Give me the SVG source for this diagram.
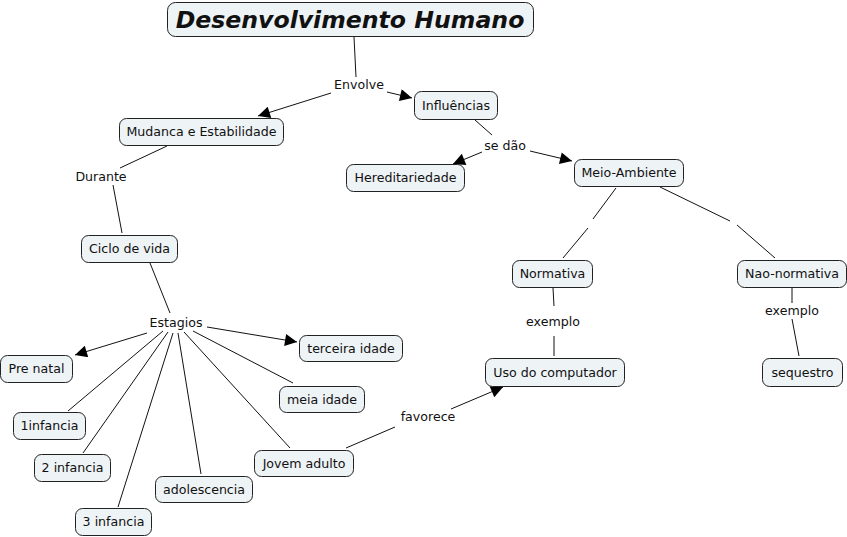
<svg xmlns="http://www.w3.org/2000/svg" width="847" height="537" viewBox="0 0 847 537">
<defs>
<style>
.n rect{fill:#eef3f6;stroke:#222;stroke-width:1}
.n text{font-family:"DejaVu Sans",Verdana,sans-serif;font-size:12.6px;fill:#111;text-anchor:middle}
.t text{font-size:23.6px;font-weight:bold;font-style:italic}
.c line{stroke:#111;stroke-width:1}
.l text{font-family:"DejaVu Sans",Verdana,sans-serif;font-size:12.6px;fill:#111;text-anchor:middle}
</style>
<marker id="a" viewBox="0 0 10 10" refX="10" refY="5" markerWidth="16" markerHeight="12" markerUnits="userSpaceOnUse" orient="auto"><path d="M0,0 L10,5 L0,10 z" fill="#000"/></marker>
</defs>
<rect width="847" height="537" fill="#fff"/>
<g id="connectors" class="c">
<line x1="354" y1="37" x2="356" y2="77"/>
<line x1="331" y1="93" x2="258" y2="116" marker-end="url(#a)"/>
<line x1="387" y1="92" x2="412" y2="98" marker-end="url(#a)"/>
<line x1="475" y1="120" x2="492" y2="135"/>
<line x1="482" y1="152" x2="453" y2="164" marker-end="url(#a)"/>
<line x1="530" y1="151" x2="572" y2="161" marker-end="url(#a)"/>
<line x1="167" y1="146" x2="120" y2="168"/>
<line x1="113" y1="185" x2="122" y2="233"/>
<line x1="150" y1="263" x2="170" y2="313"/>
<line x1="147" y1="333" x2="75" y2="355" marker-end="url(#a)"/>
<line x1="207" y1="327" x2="297" y2="342" marker-end="url(#a)"/>
<line x1="163" y1="331" x2="68" y2="411"/>
<line x1="168" y1="332" x2="83" y2="453"/>
<line x1="173" y1="333" x2="118" y2="507"/>
<line x1="178" y1="333" x2="201" y2="474"/>
<line x1="184" y1="332" x2="290" y2="448"/>
<line x1="193" y1="331" x2="293" y2="383"/>
<line x1="346" y1="448" x2="395" y2="427"/>
<line x1="451" y1="409" x2="503" y2="387" marker-end="url(#a)"/>
<line x1="616" y1="188" x2="593" y2="219"/>
<line x1="588" y1="228" x2="563" y2="258"/>
<line x1="660" y1="187" x2="730" y2="221"/>
<line x1="737" y1="225" x2="775" y2="258"/>
<line x1="553" y1="288" x2="554" y2="306"/>
<line x1="554" y1="336" x2="554" y2="356"/>
<line x1="792" y1="288" x2="792" y2="303"/>
<line x1="792" y1="319" x2="799" y2="356"/>
</g>
<g id="labels" class="l">
<text x="359" y="89">Envolve</text>
<text x="505" y="150">se dão</text>
<text x="101" y="181">Durante</text>
<text x="176" y="327">Estagios</text>
<text x="553" y="326">exemplo</text>
<text x="792" y="315">exemplo</text>
<text x="428" y="421">favorece</text>
</g>
<g id="title" class="n t"><rect x="167.5" y="2.5" width="366" height="34" rx="8"/><text x="350" y="28">Desenvolvimento Humano</text></g>
<g id="influencias" class="n"><rect x="414.5" y="91.5" width="83" height="28" rx="7"/><text x="456" y="110">Influências</text></g>
<g id="mudanca" class="n"><rect x="119.5" y="118.5" width="164" height="27" rx="7"/><text x="201.5" y="136">Mudanca e Estabilidade</text></g>
<g id="hereditariedade" class="n"><rect x="346.5" y="164.5" width="118" height="27" rx="7"/><text x="405.5" y="182">Hereditariedade</text></g>
<g id="meioambiente" class="n"><rect x="574.5" y="159.5" width="109" height="27" rx="7"/><text x="629" y="177">Meio-Ambiente</text></g>
<g id="ciclo" class="n"><rect x="81.5" y="235.5" width="96" height="27" rx="7"/><text x="129.5" y="253">Ciclo de vida</text></g>
<g id="normativa" class="n"><rect x="512.5" y="260.5" width="80" height="27" rx="7"/><text x="552.5" y="278">Normativa</text></g>
<g id="naonormativa" class="n"><rect x="737.5" y="260.5" width="109" height="27" rx="7"/><text x="792" y="278">Nao-normativa</text></g>
<g id="prenatal" class="n"><rect x="0.5" y="355.5" width="72" height="27" rx="7"/><text x="36.5" y="373">Pre natal</text></g>
<g id="terceira" class="n"><rect x="299.5" y="335.5" width="103" height="26" rx="7"/><text x="351" y="353">terceira idade</text></g>
<g id="meia" class="n"><rect x="279.5" y="386.5" width="85" height="26" rx="7"/><text x="322" y="404">meia idade</text></g>
<g id="uso" class="n"><rect x="485.5" y="358.5" width="139" height="28" rx="7"/><text x="555" y="377">Uso do computador</text></g>
<g id="sequestro" class="n"><rect x="762.5" y="358.5" width="80" height="28" rx="7"/><text x="802.5" y="377">sequestro</text></g>
<g id="infancia1" class="n"><rect x="13.5" y="412.5" width="72" height="27" rx="7"/><text x="49.5" y="430">1infancia</text></g>
<g id="infancia2" class="n"><rect x="34.5" y="454.5" width="76" height="27" rx="7"/><text x="72.5" y="472">2 infancia</text></g>
<g id="jovem" class="n"><rect x="254.5" y="450.5" width="99" height="26" rx="7"/><text x="304" y="468">Jovem adulto</text></g>
<g id="adolescencia" class="n"><rect x="155.5" y="476.5" width="97" height="26" rx="7"/><text x="204" y="494">adolescencia</text></g>
<g id="infancia3" class="n"><rect x="75.5" y="508.5" width="76" height="27" rx="7"/><text x="113.5" y="526">3 infancia</text></g>
</svg>
